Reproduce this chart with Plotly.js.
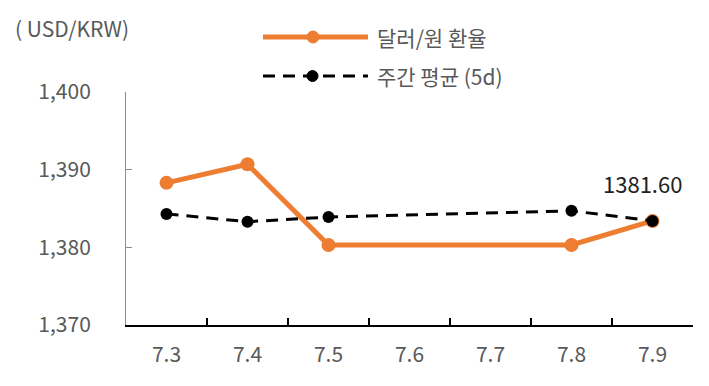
<!DOCTYPE html>
<html><head><meta charset="utf-8">
<script src="https://cdn.plot.ly/plotly-3.0.1.min.js"></script>
<style>html,body{margin:0;padding:0;background:#fff}#c{width:709px;height:386px}</style>
</head><body><div id="c"></div>
<script>
const categories = ['7.3','7.4','7.5','7.6','7.7','7.8','7.9'];
const rateValues = [1388.3, 1390.7, 1380.3, null, null, 1380.3, 1383.4];
const avgValues  = [1384.3, 1383.3, 1383.9, null, null, 1384.7, 1383.4];
const yTicks = [1370, 1380, 1390, 1400];
const yTickLabels = ['1,370', '1,380', '1,390', '1,400'];
const seriesNames = ['달러/원 환율', '주간 평균 (5d)'];
const lastLabel = '1381.60';

const FONT = '"Noto Sans CJK KR", "Noto Sans", sans-serif';
const ORANGE = '#ED7D31';
const GREY = '#595959';
const FS = 21;

const traces = [
  {x: categories, y: rateValues, type: 'scatter', mode: 'lines+markers', connectgaps: true,
   name: seriesNames[0], line: {color: ORANGE, width: 5}, marker: {color: ORANGE, size: 14}},
  {x: categories, y: avgValues, type: 'scatter', mode: 'lines+markers', connectgaps: true,
   name: seriesNames[1], line: {color: '#000', width: 3, dash: '12px,8px'}, marker: {color: '#000', size: 12}}
];

const W = 709, H = 386, L = 126, R = 16, T = 92, B = 61;
const px = v => (v - L) / (W - L - R);
const py = v => 1 - (v - T) / (H - T - B);

const layout = {
  width: W, height: H,
  margin: {l: L, r: R, t: T, b: B},
  showlegend: false,
  paper_bgcolor: '#fff', plot_bgcolor: '#fff',
  font: {family: FONT, color: GREY, size: FS},
  xaxis: {type: 'category', categoryorder: 'array', categoryarray: categories,
    range: [-0.5, 6.5], showline: true, linecolor: '#000', linewidth: 2,
    ticks: 'inside', tickson: 'boundaries', ticklen: 7, tickwidth: 2, tickcolor: '#000',
    ticklabelstandoff: 10,
    showgrid: false, zeroline: false, tickfont: {size: FS, color: GREY, family: FONT}},
  yaxis: {range: [1370, 1400], tickvals: yTicks, ticktext: yTickLabels,
    showline: true, linecolor: '#8c8c8c', linewidth: 1,
    ticks: 'inside', ticklen: 6, tickcolor: '#8c8c8c', ticklabelstandoff: 30,
    showgrid: false, zeroline: false, tickfont: {size: FS, color: GREY, family: FONT}},
  shapes: [
    {type: 'line', xref: 'paper', yref: 'paper', x0: px(263), x1: px(368), y0: py(37), y1: py(37),
     line: {color: ORANGE, width: 5}},
    {type: 'circle', xref: 'paper', yref: 'paper', x0: px(307), x1: px(319), y0: py(31), y1: py(43),
     fillcolor: ORANGE, line: {color: ORANGE, width: 1}},
    {type: 'line', xref: 'paper', yref: 'paper', x0: px(263), x1: px(368), y0: py(76), y1: py(76),
     line: {color: '#000', width: 3, dash: '12px,8px'}},
    {type: 'circle', xref: 'paper', yref: 'paper', x0: px(307), x1: px(318), y0: py(70.5), y1: py(81.5),
     fillcolor: '#000', line: {color: '#000', width: 1}}
  ],
  annotations: [
    {xref: 'paper', yref: 'paper', x: px(13), y: py(28), xanchor: 'left', yanchor: 'middle',
     text: '( USD/KRW)', showarrow: false, font: {size: FS, color: GREY, family: FONT}},
    {xref: 'paper', yref: 'paper', x: px(375), y: py(37), xanchor: 'left', yanchor: 'middle',
     text: seriesNames[0], showarrow: false, font: {size: FS, color: GREY, family: FONT}},
    {xref: 'paper', yref: 'paper', x: px(375), y: py(76), xanchor: 'left', yanchor: 'middle',
     text: seriesNames[1], showarrow: false, font: {size: FS, color: GREY, family: FONT}},
    {xref: 'x', yref: 'y', x: 6, y: avgValues[6], xanchor: 'center', yanchor: 'bottom', yshift: 20, xshift: -10,
     text: lastLabel, showarrow: false, font: {size: 22, color: '#222', family: FONT}}
  ]
};
Plotly.newPlot('c', traces, layout, {displayModeBar: false, staticPlot: true});
</script></body></html>
